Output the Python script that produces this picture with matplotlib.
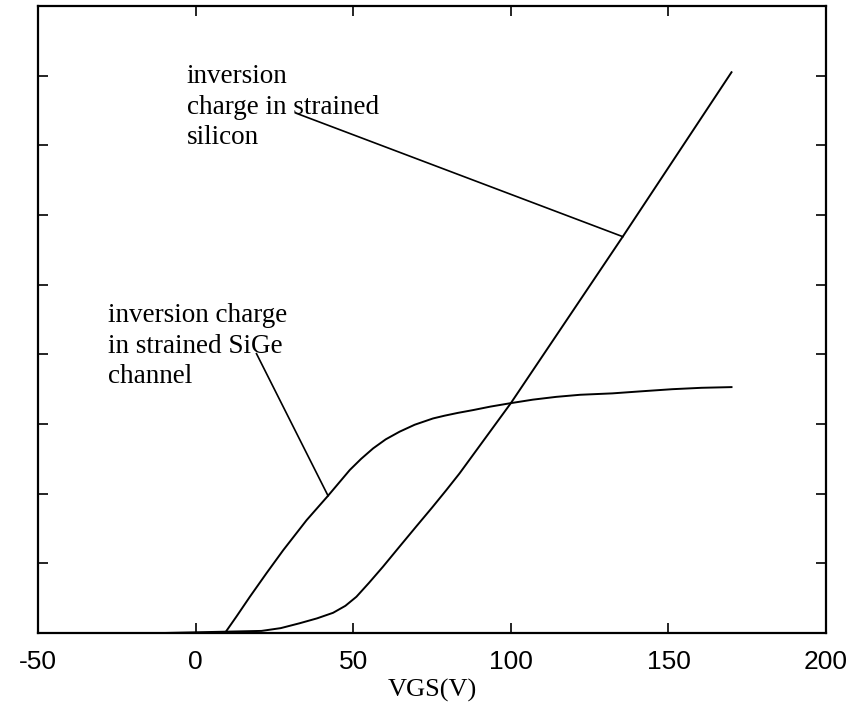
import matplotlib.pyplot as plt

# Gate voltage sweep (V) and inversion charge (arbitrary units)
vgs_sige = [-10, 9.3, 13.0, 17.2, 22.5, 27.8, 35.2, 42.0, 48.9, 52.5, 56.3, 60.3, 64.7, 69.5, 75.3, 79.0, 83.2,
            88.0, 93.5, 100.0, 107.0, 114.4, 122.0, 132.2, 141.5, 151.2, 160.5, 170.0]
q_sige = [0, 0, 0.24, 0.52, 0.86, 1.19, 1.62, 1.97, 2.34, 2.50, 2.65, 2.78, 2.89, 2.99, 3.08, 3.12, 3.16,
          3.20, 3.25, 3.30, 3.35, 3.39, 3.42, 3.44, 3.47, 3.50, 3.52, 3.53]

vgs_si = [-10, 20.9, 27.0, 33.0, 38.5, 43.6, 47.5, 51.0, 55.0, 59.4, 64.5, 70.0, 75.0, 79.5, 83.7, 100.0,
          135.5, 170.0]
q_si = [0, 0.03, 0.07, 0.14, 0.21, 0.29, 0.39, 0.52, 0.72, 0.95, 1.23, 1.53, 1.80, 2.05, 2.29, 3.30,
        5.69, 8.05]

# Leader lines: (label end, curve end)
lead_si_x = [32.0, 135.5]
lead_si_y = [7.46, 5.69]
lead_sige_x = [19.3, 42.0]
lead_sige_y = [4.01, 1.97]

xticks = [-50, 0, 50, 100, 150, 200]

fig = plt.figure(figsize=(8.51, 7.06), dpi=100)
ax = fig.add_axes([0.0447, 0.1034, 0.926, 0.888])

ax.plot(vgs_sige, q_sige, color='black', linewidth=1.4)
ax.plot(vgs_si, q_si, color='black', linewidth=1.4)
ax.plot(lead_si_x, lead_si_y, color='black', linewidth=1.2)
ax.plot(lead_sige_x, lead_sige_y, color='black', linewidth=1.2)

ax.set_xlim(-50, 200)
ax.set_ylim(0, 9)
ax.set_xticks(xticks)
ax.set_xticklabels([str(t) for t in xticks], fontfamily='Liberation Sans', fontsize=19)
ax.set_yticks(range(1, 9))
ax.set_yticklabels([])
ax.tick_params(direction='in', length=7, width=1.2, top=True, right=True, pad=12)
for sp in ax.spines.values():
    sp.set_linewidth(1.6)

ax.set_xlabel('VGS(V)', fontfamily='Liberation Serif', fontsize=19, labelpad=4)

ax.text(-2.9, 7.55, 'inversion\ncharge in strained\nsilicon', fontfamily='Liberation Serif',
        fontsize=19.5, va='center', ha='left', linespacing=1.3)
ax.text(-27.7, 4.12, 'inversion charge\nin strained SiGe\nchannel', fontfamily='Liberation Serif',
        fontsize=19.5, va='center', ha='left', linespacing=1.3)

fig.savefig('out.png', dpi=100)
